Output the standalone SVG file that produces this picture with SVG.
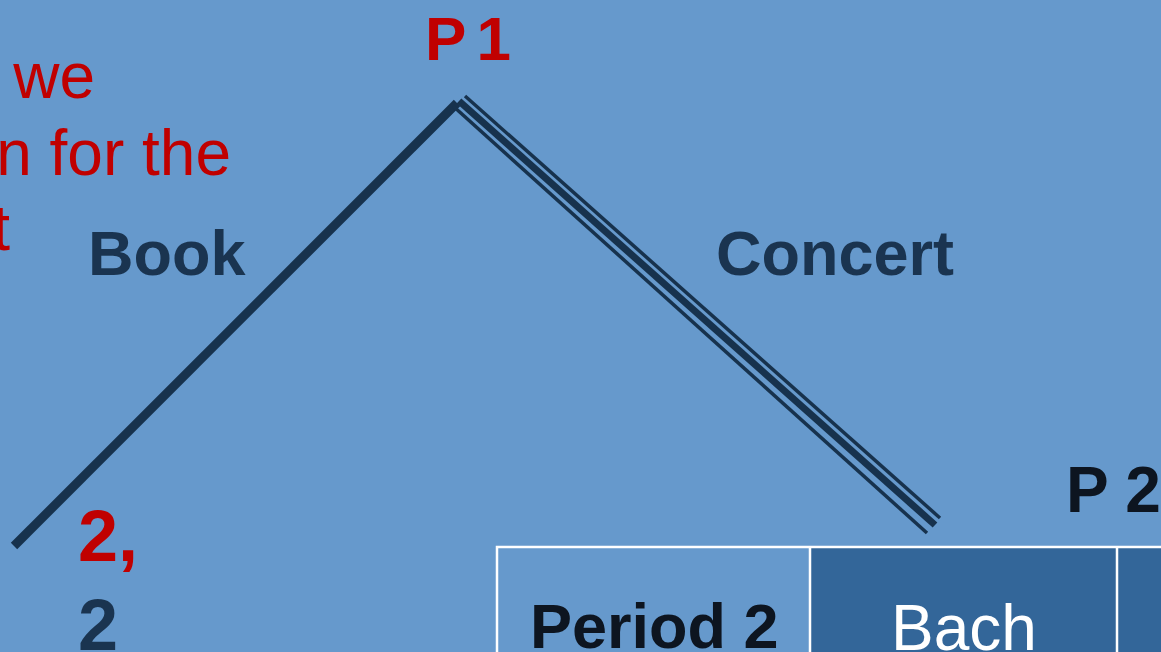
<svg xmlns="http://www.w3.org/2000/svg" width="1161" height="652" viewBox="0 0 1161 652">
<style>
.t{font-family:"Liberation Sans",Arial,sans-serif}
.b{font-weight:bold}
.red{fill:#C00000}
.dk{fill:#1A3450}
.bk{fill:#0D1520}
.ln{stroke:#17324D;fill:none}
</style>
<rect width="1161" height="652" fill="#6699CC"/>
<g id="note">
<text class="t red" font-size="64" text-anchor="end" x="95" y="98">we</text>
<text class="t red" font-size="64" text-anchor="end" x="231" y="175">n for the</text>
<text class="t red" font-size="64" text-anchor="end" x="10" y="250">t</text>
</g>
<g id="connectors">
<line class="ln" x1="14" y1="546" x2="457" y2="103" stroke-width="9"/>
<line class="ln" x1="453" y1="106" x2="927" y2="533" stroke-width="3.5"/>
<line class="ln" x1="459" y1="101" x2="935" y2="525" stroke-width="7"/>
<line class="ln" x1="465" y1="96" x2="940" y2="518" stroke-width="3.5"/>
</g>
<g id="p1"><text class="t b red" font-size="62" x="425" y="60" letter-spacing="-3">P 1</text></g>
<g id="book"><text class="t b dk" font-size="63" x="88" y="275">Book</text></g>
<g id="concert"><text class="t b dk" font-size="63" x="716" y="275">Concert</text></g>
<g id="payoff">
<text class="t b red" font-size="72" x="78" y="561">2,</text>
<text class="t b dk" font-size="72" x="78" y="650">2</text>
</g>
<g id="p2"><text class="t b bk" font-size="64" x="1066" y="512">P 2</text></g>
<g id="table">
<rect x="810" y="547" width="360" height="110" fill="#336699"/>
<path d="M497 660V547H1165M810 547V660M1117 547V660" stroke="#FFFFFF" stroke-width="2.5" fill="none"/>
<text class="t b bk" font-size="63" x="530" y="648">Period 2</text>
<text class="t" font-size="64" fill="#FFFFFF" x="891" y="650">Bach</text>
</g>
</svg>
